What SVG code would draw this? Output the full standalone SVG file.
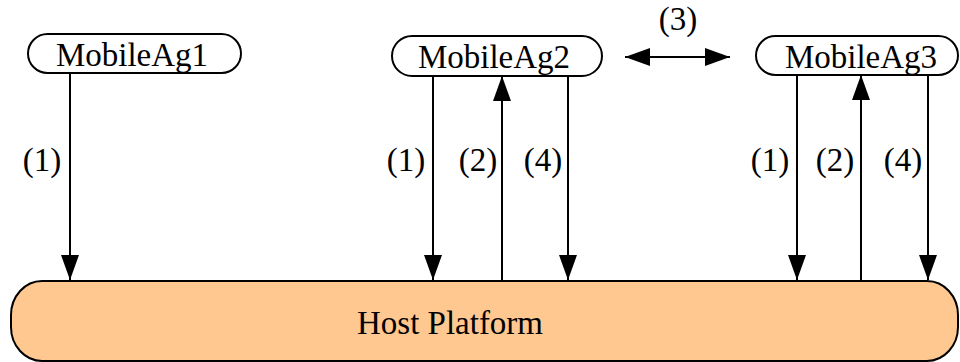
<svg xmlns="http://www.w3.org/2000/svg" width="960" height="362" viewBox="0 0 960 362">
<style>
.box{fill:#fff;stroke:#000;stroke-width:2}
.host{fill:#ffc891;stroke:#000;stroke-width:2}
.t{font-family:"Liberation Serif","Times New Roman",serif;font-size:33px;fill:#000}
.c{text-anchor:middle}
.ln{stroke:#000;stroke-width:2;fill:none;marker-end:url(#ah)}
.dbl{stroke:#000;stroke-width:2;fill:none;marker-end:url(#ah);marker-start:url(#ah)}
</style>
<defs>
<marker id="ah" markerUnits="userSpaceOnUse" markerWidth="26" markerHeight="20" refX="25" refY="9" orient="auto-start-reverse" viewBox="0 0 26 20">
<path d="M0,0 L25,9 L0,18 z" fill="#000"/>
</marker>
</defs>
<g id="host">
<rect class="host" x="11" y="281" width="947" height="80" rx="31" ry="34"/>
<text class="t c" x="450" y="334">Host Platform</text>
</g>
<g id="ag1">
<rect class="box" x="28" y="34" width="213" height="39" rx="19.5" ry="19.5"/>
<text class="t c" x="132" y="66">MobileAg1</text>
</g>
<g id="ag2">
<rect class="box" x="392" y="36" width="210" height="40" rx="20" ry="20"/>
<text class="t c" x="494" y="68">MobileAg2</text>
</g>
<g id="ag3">
<rect class="box" x="756" y="36" width="202" height="39" rx="19.5" ry="19.5"/>
<text class="t c" x="861" y="68">MobileAg3</text>
</g>
<g id="connectors">
<line class="ln" x1="70" y1="73" x2="70" y2="280"/>
<line class="ln" x1="433" y1="76" x2="433" y2="280"/>
<line class="ln" x1="502" y1="281" x2="502" y2="76"/>
<line class="ln" x1="568" y1="76" x2="568" y2="280"/>
<line class="ln" x1="797" y1="75" x2="797" y2="280"/>
<line class="ln" x1="861" y1="281" x2="861" y2="75"/>
<line class="ln" x1="928" y1="75" x2="928" y2="280"/>
<line class="dbl" x1="625" y1="57" x2="730" y2="57"/>
</g>
<g id="labels">
<text class="t c" x="42" y="171">(1)</text>
<text class="t c" x="406" y="171">(1)</text>
<text class="t c" x="478" y="171">(2)</text>
<text class="t c" x="543" y="171">(4)</text>
<text class="t c" x="770" y="171">(1)</text>
<text class="t c" x="835" y="171">(2)</text>
<text class="t c" x="903" y="171">(4)</text>
<text class="t c" x="678" y="30">(3)</text>
</g>
</svg>
